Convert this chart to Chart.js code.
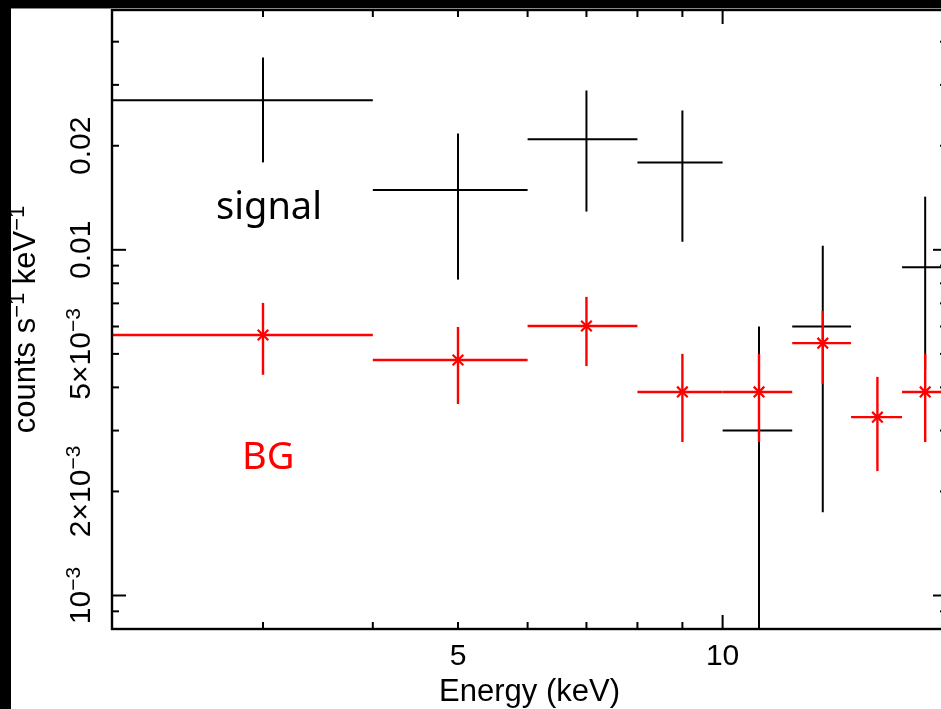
<!DOCTYPE html>
<html lang="en">
<head>
<meta charset="UTF-8">
<title>Signal and BG spectrum</title>
<script src="https://cdn.jsdelivr.net/npm/chart.js@4.4.1/dist/chart.umd.min.js"></script>
<style>
    * { margin: 0; padding: 0; box-sizing: border-box; }
    html, body { width: 941px; height: 709px; overflow: hidden; background: #fff; }
    .wrap { position: relative; width: 950px; height: 709px; }
    .strip-top { position: absolute; left: 0; top: 0; width: 950px; height: 9px; background: #000; border-bottom: 1px solid #888; }
    .strip-left { position: absolute; left: 0; top: 0; width: 11px; height: 709px; background: #000; }
</style>
</head>
<body>
<div class="wrap">
    <canvas id="spec" width="950" height="709"></canvas>
    <div class="strip-top"></div>
    <div class="strip-left"></div>
</div>
<script>
// energy bins (keV)
const signalE   = [3, 5, 7, 9, 11, 13, 17];
const signalElo = [2, 4, 6, 8, 10, 12, 16];
const signalEhi = [4, 6, 8, 10, 12, 14, 18];
// counts s^-1 keV^-1
const signalRate = [0.0271, 0.0149, 0.0209, 0.0179, 0.0030, 0.0060, 0.0089];
const signalLo   = [0.0179, 0.0082, 0.0129, 0.01055, 0.00001, 0.00174, 0.0045];
const signalHi   = [0.0360, 0.0217, 0.0289, 0.0253, 0.0060, 0.01027, 0.01425];

const bgE   = [3, 5, 7, 9, 11, 13, 15, 17];
const bgElo = [2, 4, 6, 8, 10, 12, 14, 16];
const bgEhi = [4, 6, 8, 10, 12, 14, 16, 18];
const bgRate = [0.00567, 0.0048, 0.00602, 0.00388, 0.00388, 0.00537, 0.00328, 0.00388];
const bgLo   = [0.00435, 0.00358, 0.00461, 0.00278, 0.00278, 0.00409, 0.00229, 0.00278];
const bgHi   = [0.00702, 0.00598, 0.00731, 0.00500, 0.00500, 0.00666, 0.00429, 0.00500];

// axes
const xRange = [2.02, 18];
const yRange = [0.0008, 0.0494];
const xMinorTicks = [3, 4, 5, 6, 7, 8, 9];
const xMajorTicks = [10];
const xTickVals   = [5, 10];
const xTickLabels = ['5', '10'];
const yMinorTicks = [0.0009, 0.002, 0.003, 0.004, 0.005, 0.006, 0.007, 0.008, 0.009, 0.02, 0.03, 0.04];
const yMajorTicks = [0.001, 0.01];
const yTickVals   = [0.001, 0.002, 0.005, 0.01, 0.02];
const yTickLabels = ['10^−3', '2×10^−3', '5×10^−3', '0.01', '0.02'];
const xTitle = 'Energy (keV)';
const yTitle = 'counts s^−1^ keV^−1';

const AXIS_FONT = '"Liberation Sans", Arial, Helvetica, sans-serif';

// draws text with ^...^ superscripts, baseline at y=0
function drawRich(ctx, str, size, centered) {
    const parts = str.split('^');
    const supSize = Math.round(size * 0.7);
    const widths = parts.map((p, i) => {
        ctx.font = (i % 2 ? supSize : size) + 'px ' + AXIS_FONT;
        return ctx.measureText(p).width;
    });
    const total = widths.reduce((a, b) => a + b, 0);
    let x = centered ? -total / 2 : 0;
    parts.forEach((p, i) => {
        ctx.font = (i % 2 ? supSize : size) + 'px ' + AXIS_FONT;
        ctx.fillText(p, x, i % 2 ? -size * 0.34 : 0);
        x += widths[i];
    });
}

function line(ctx, x1, y1, x2, y2) {
    ctx.beginPath();
    ctx.moveTo(x1, y1);
    ctx.lineTo(x2, y2);
    ctx.stroke();
}

const errorBars = {
    id: 'errorBars',
    beforeDatasetsDraw(chart) {
        const { ctx, chartArea: a, scales: { x, y } } = chart;
        const groups = [
            { e: signalE, elo: signalElo, ehi: signalEhi, v: signalRate, lo: signalLo, hi: signalHi, color: '#000', w: 2 },
            { e: bgE, elo: bgElo, ehi: bgEhi, v: bgRate, lo: bgLo, hi: bgHi, color: '#ff0000', w: 2.4 }
        ];
        ctx.save();
        ctx.beginPath();
        ctx.rect(a.left, a.top, a.right - a.left, a.bottom - a.top);
        ctx.clip();
        groups.forEach(g => {
            ctx.strokeStyle = g.color;
            ctx.lineWidth = g.w;
            g.e.forEach((e, i) => {
                const py = y.getPixelForValue(g.v[i]);
                const px = x.getPixelForValue(e);
                line(ctx, x.getPixelForValue(g.elo[i]), py, x.getPixelForValue(g.ehi[i]), py);
                line(ctx, px, y.getPixelForValue(g.lo[i]), px, y.getPixelForValue(g.hi[i]));
            });
        });
        ctx.restore();
    },
    afterDraw(chart) {
        const { ctx, chartArea: a, scales: { x, y } } = chart;
        ctx.save();
        ctx.strokeStyle = '#000';
        ctx.fillStyle = '#000';
        ctx.lineWidth = 2.4;
        ctx.strokeRect(a.left, a.top, a.right - a.left, a.bottom - a.top);
        ctx.lineWidth = 2;

        // ticks point inward on all four sides
        const xt = (v, len) => {
            const px = x.getPixelForValue(v);
            line(ctx, px, a.bottom, px, a.bottom - len);
            line(ctx, px, a.top, px, a.top + len);
        };
        const yt = (v, len) => {
            const py = y.getPixelForValue(v);
            line(ctx, a.left, py, a.left + len, py);
            line(ctx, a.right, py, a.right - len, py);
        };
        xMinorTicks.forEach(v => xt(v, 7));
        xMajorTicks.forEach(v => xt(v, 14));
        yMinorTicks.forEach(v => yt(v, 7));
        yMajorTicks.forEach(v => yt(v, 14));

        ctx.textAlign = 'left';
        ctx.textBaseline = 'alphabetic';
        xTickVals.forEach((v, i) => {
            ctx.save();
            ctx.translate(x.getPixelForValue(v), 665);
            drawRich(ctx, xTickLabels[i], 30, true);
            ctx.restore();
        });
        yTickVals.forEach((v, i) => {
            ctx.save();
            ctx.translate(90, y.getPixelForValue(v));
            ctx.rotate(-Math.PI / 2);
            drawRich(ctx, yTickLabels[i], 30, true);
            ctx.restore();
        });

        ctx.save();
        ctx.translate((a.left + a.right) / 2, 701);
        drawRich(ctx, xTitle, 31, true);
        ctx.restore();

        ctx.save();
        ctx.translate(35, (a.top + a.bottom) / 2);
        ctx.rotate(-Math.PI / 2);
        drawRich(ctx, yTitle, 31, true);
        ctx.restore();

        // annotations
        ctx.font = '38px "Noto Sans", "Open Sans", sans-serif';
        ctx.fillStyle = '#000';
        ctx.fillText('signal', 216, 219);
        ctx.fillStyle = '#ff0000';
        ctx.fillText('BG', 242, 469);
        ctx.restore();
    }
};

new Chart(document.getElementById('spec'), {
    type: 'scatter',
    data: {
        datasets: [
            {
                label: 'signal',
                data: signalE.map((e, i) => ({ x: e, y: signalRate[i] })),
                pointRadius: 0,
                borderColor: '#000'
            },
            {
                label: 'BG',
                data: bgE.map((e, i) => ({ x: e, y: bgRate[i] })),
                pointStyle: 'crossRot',
                pointRadius: 7.5,
                borderWidth: 2.2,
                borderColor: '#ff0000',
                backgroundColor: '#ff0000'
            }
        ]
    },
    options: {
        responsive: false,
        devicePixelRatio: 1,
        animation: false,
        layout: { autoPadding: false, padding: { left: 112, top: 10, right: 3, bottom: 80 } },
        plugins: { legend: { display: false }, tooltip: { enabled: false } },
        scales: {
            x: { type: 'logarithmic', display: false, min: xRange[0], max: xRange[1] },
            y: { type: 'logarithmic', display: false, min: yRange[0], max: yRange[1] }
        }
    },
    plugins: [errorBars]
});
</script>
</body>
</html>
